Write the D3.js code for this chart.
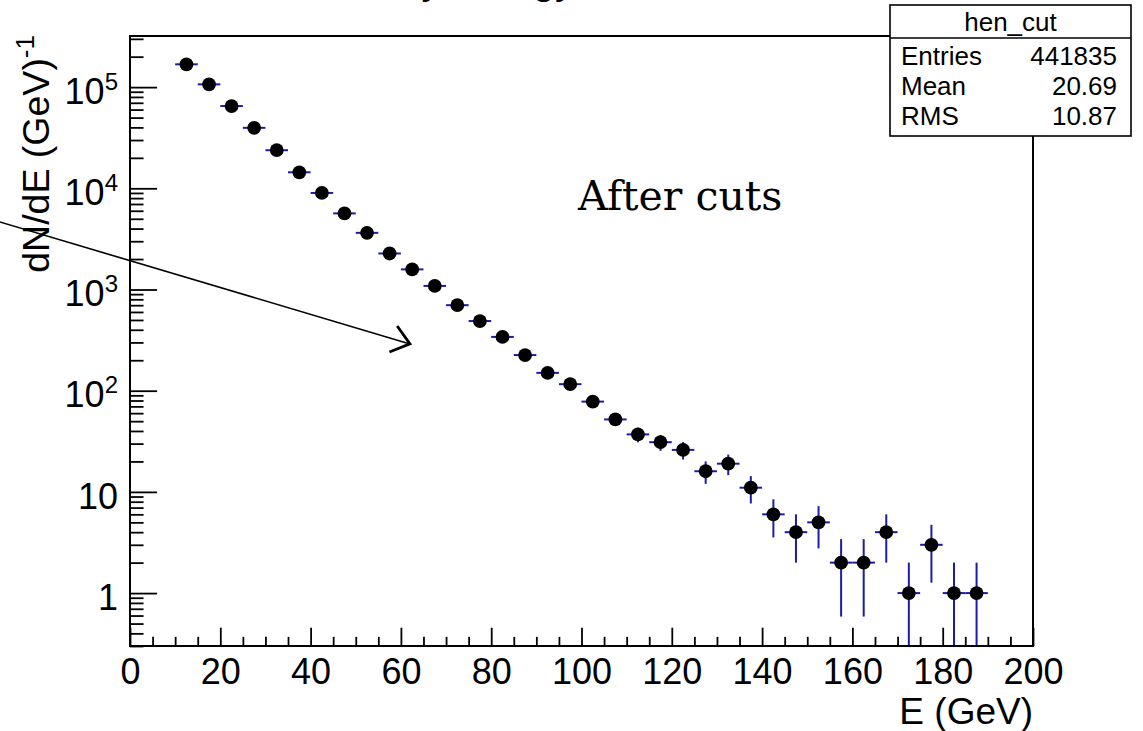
<!DOCTYPE html>
<html>
<head>
<meta charset="utf-8">
<script src="https://cdn.jsdelivr.net/npm/d3@7"></script>
<style>
  html, body { margin: 0; padding: 0; background: #ffffff; }
  svg { display: block; }
</style>
</head>
<body>
<svg id="chart" width="1143" height="731"></svg>
<script>
// Histogram "hen_cut": counts per 5 GeV bin (bin centres in GeV)
const binCenters = [12.5, 17.5, 22.5, 27.5, 32.5, 37.5, 42.5, 47.5, 52.5, 57.5,
                    62.5, 67.5, 72.5, 77.5, 82.5, 87.5, 92.5, 97.5, 102.5, 107.5,
                    112.5, 117.5, 122.5, 127.5, 132.5, 137.5, 142.5, 147.5, 152.5, 157.5,
                    162.5, 167.5, 172.5, 177.5, 182.5, 187.5];
const counts = [168000, 106500, 65000, 39600, 23800, 14400, 9000, 5650, 3630, 2270,
                1580, 1085, 700, 488, 340, 225, 150, 116, 78, 52,
                37, 31, 26, 16, 19, 11, 6, 4, 5, 2,
                2, 4, 1, 3, 1, 1];
const binHalfWidth = 2.5;

// Axis ticks
const xMajorTicks = [0, 20, 40, 60, 80, 100, 120, 140, 160, 180, 200];
const xMinorStep = 5;
const yDecades = [1, 10, 100, 1000, 10000, 100000];
const yDecadeLabels = [["1", ""], ["10", ""], ["10", "2"], ["10", "3"], ["10", "4"], ["10", "5"]];
const yMinorMultipliers = [2, 3, 4, 5, 6, 7, 8, 9];

// Texts
const histTitle = "Primary energy";
const xTitle = "E (GeV)";
const yTitle = "dN/dE (GeV)";
const yTitleExp = "-1";
const annotation = "After cuts";
const statsName = "hen_cut";
const statsLabels = ["Entries", "Mean", "RMS"];
const statsValues = ["441835", "20.69", "10.87"];

// Annotation arrow, in data coordinates (E, dN/dE)
const arrowFrom = [-29.5, 4750];
const arrowTo = [62.0, 290];

const W = 1143, H = 731;
const frame = { left: 130, right: 1033, top: 36, bottom: 646 };
const sans = "'Liberation Sans', Arial, Helvetica, sans-serif";
const errColor = "#1c1cac";

const svg = d3.select("#chart");
svg.append("rect").attr("width", W).attr("height", H).attr("fill", "#ffffff");

const x = d3.scaleLinear().domain([0, 200]).range([frame.left, frame.right]);
const y = d3.scaleLog().domain([0.3, 3.2e5]).range([frame.bottom, frame.top]);

const frameH = frame.bottom - frame.top;
const frameW = frame.right - frame.left;
const xMajorLen = 0.03 * frameH, xMinorLen = xMajorLen / 2;
const yMajorLen = 0.03 * frameW, yMinorLen = yMajorLen / 2;

// Title (sits above the canvas edge)
svg.append("text")
  .attr("x", 575).attr("y", -6)
  .attr("text-anchor", "end")
  .attr("font-family", sans).attr("font-size", 40)
  .text(histTitle);

// X axis: major + minor ticks pointing into the frame
const xMinor = d3.range(0, 200 + 0.001, xMinorStep).filter(v => !xMajorTicks.includes(v));
const gxMinor = svg.append("g")
  .attr("transform", `translate(0,${frame.bottom})`)
  .call(d3.axisBottom(x).tickValues(xMinor).tickSize(-xMinorLen).tickFormat(""));
const gx = svg.append("g")
  .attr("transform", `translate(0,${frame.bottom})`)
  .call(d3.axisBottom(x).tickValues(xMajorTicks).tickSize(-xMajorLen).tickPadding(12).tickFormat(d3.format("d")));
[gx, gxMinor].forEach(g => {
  g.select(".domain").remove();
  g.selectAll("line").attr("stroke", "#000").attr("stroke-width", 1.8);
});
gx.selectAll("text").attr("font-family", sans).attr("font-size", 36).attr("fill", "#000");

// Y axis (log): decades + 2..9 minor ticks
const yMinor = [];
[0.1, 1, 10, 100, 1000, 10000, 100000].forEach(d => {
  yMinorMultipliers.forEach(m => {
    const v = d * m;
    if (v >= 0.3 && v <= 3.2e5) yMinor.push(v);
  });
});
const gyMinor = svg.append("g")
  .attr("transform", `translate(${frame.left},0)`)
  .call(d3.axisLeft(y).tickValues(yMinor).tickSize(-yMinorLen).tickFormat(""));
const gy = svg.append("g")
  .attr("transform", `translate(${frame.left},0)`)
  .call(d3.axisLeft(y).tickValues(yDecades).tickSize(-yMajorLen).tickPadding(12).tickFormat(""));
[gy, gyMinor].forEach(g => {
  g.select(".domain").remove();
  g.selectAll("line").attr("stroke", "#000").attr("stroke-width", 1.8);
});
gy.selectAll(".tick text").each(function(d, i) {
  const t = d3.select(this)
    .attr("font-family", sans).attr("font-size", 36).attr("fill", "#000")
    .attr("dy", "0.45em");
  const [base, exp] = yDecadeLabels[i];
  t.append("tspan").text(base);
  if (exp) t.append("tspan").attr("font-size", 24).attr("dy", -14).text(exp);
});

// Axis titles
svg.append("text")
  .attr("x", frame.right).attr("y", 724)
  .attr("text-anchor", "end")
  .attr("font-family", sans).attr("font-size", 37)
  .text(xTitle);
const yt = svg.append("text")
  .attr("transform", `translate(49,35) rotate(-90)`)
  .attr("text-anchor", "end")
  .attr("font-family", sans).attr("font-size", 37.5);
yt.append("tspan").text(yTitle);
yt.append("tspan").attr("font-size", 26).attr("dy", -15).text(yTitleExp);

// Data: error bars + markers
const points = binCenters.map((c, i) => ({ e: c, n: counts[i], err: Math.sqrt(counts[i]) }));
const yClamp = v => y(Math.max(v, 0.3));
const gData = svg.append("g");
gData.selectAll("line.ex").data(points).join("line")
  .attr("class", "ex")
  .attr("x1", d => x(d.e - binHalfWidth)).attr("x2", d => x(d.e + binHalfWidth))
  .attr("y1", d => y(d.n)).attr("y2", d => y(d.n))
  .attr("stroke", errColor).attr("stroke-width", 2);
gData.selectAll("line.ey").data(points).join("line")
  .attr("class", "ey")
  .attr("x1", d => x(d.e)).attr("x2", d => x(d.e))
  .attr("y1", d => yClamp(d.n - d.err)).attr("y2", d => yClamp(d.n + d.err))
  .attr("stroke", errColor).attr("stroke-width", 2);
gData.selectAll("circle").data(points).join("circle")
  .attr("cx", d => x(d.e)).attr("cy", d => y(d.n)).attr("r", 6.9)
  .attr("fill", "#000");

// Frame
svg.append("rect")
  .attr("x", frame.left).attr("y", frame.top)
  .attr("width", frameW).attr("height", frameH)
  .attr("fill", "none").attr("stroke", "#000").attr("stroke-width", 2);

// Annotation text
svg.append("text")
  .attr("x", 578).attr("y", 210)
  .attr("font-family", "'DejaVu Serif', serif").attr("font-size", 41)
  .text(annotation);

// Arrow with open head
const ax0 = x(arrowFrom[0]), ay0 = y(arrowFrom[1]);
const ax1 = x(arrowTo[0]), ay1 = y(arrowTo[1]);
svg.append("line")
  .attr("x1", ax0).attr("y1", ay0).attr("x2", ax1).attr("y2", ay1)
  .attr("stroke", "#000").attr("stroke-width", 1.6);
const ang = Math.atan2(ay1 - ay0, ax1 - ax0);
const headLen = 22, headAng = 38 * Math.PI / 180;
const head = [ang + Math.PI - headAng, ang + Math.PI + headAng].map(a => [ax1 + headLen * Math.cos(a), ay1 + headLen * Math.sin(a)]);
svg.append("path")
  .attr("d", `M${head[0][0]},${head[0][1]}L${ax1},${ay1}L${head[1][0]},${head[1][1]}`)
  .attr("fill", "none").attr("stroke", "#000").attr("stroke-width", 2.8)
  .attr("stroke-linejoin", "miter");

// Statistics box
const sb = { x: 890, y: 5, w: 241, h: 131, titleH: 33 };
const gs = svg.append("g");
gs.append("rect")
  .attr("x", sb.x).attr("y", sb.y).attr("width", sb.w).attr("height", sb.h)
  .attr("fill", "#fff").attr("stroke", "#000").attr("stroke-width", 1.6);
gs.append("line")
  .attr("x1", sb.x).attr("x2", sb.x + sb.w)
  .attr("y1", sb.y + sb.titleH).attr("y2", sb.y + sb.titleH)
  .attr("stroke", "#000").attr("stroke-width", 1.6);
gs.append("text")
  .attr("x", sb.x + sb.w / 2).attr("y", 31)
  .attr("text-anchor", "middle")
  .attr("font-family", sans).attr("font-size", 26)
  .text(statsName);
const rowBase = [65, 95, 125];
statsLabels.forEach((lab, i) => {
  gs.append("text").attr("x", sb.x + 11).attr("y", rowBase[i])
    .attr("font-family", sans).attr("font-size", 26).text(lab);
  gs.append("text").attr("x", sb.x + sb.w - 14).attr("y", rowBase[i])
    .attr("text-anchor", "end")
    .attr("font-family", sans).attr("font-size", 26).text(statsValues[i]);
});
</script>
</body>
</html>
